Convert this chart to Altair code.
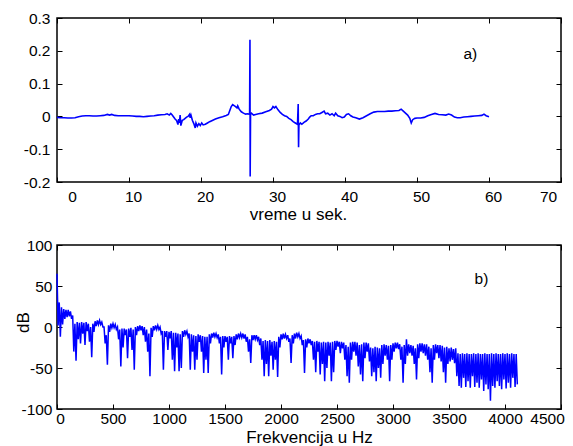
import altair as alt
import pandas as pd

# ---------------- panel a): time signal ----------------
time_s = [
    0.0, 0.5, 1.0, 1.5, 2.0, 2.5, 3.0, 3.5, 4.0, 4.5,
    5.0, 5.5, 6.0, 6.5, 7.0, 7.3, 7.6, 8.0, 8.5, 9.0,
    9.5, 10.0, 10.5, 11.0, 11.5, 12.0, 12.5, 13.0, 13.5, 14.0,
    14.5, 15.0, 15.3, 15.6, 15.8, 16.0, 16.2, 16.4, 16.6, 16.8,
    16.9, 17.0, 17.1, 17.2, 17.4, 17.6, 17.8, 18.0, 18.2, 18.4,
    18.5, 18.6, 18.8, 19.0, 19.2, 19.3, 19.5, 19.7, 19.9, 20.1,
    20.3, 20.6, 20.9, 21.2, 21.5, 22.0, 22.5, 23.0, 23.5, 23.8,
    24.0, 24.2, 24.4, 24.6, 24.8, 25.0, 25.1, 25.3, 25.6, 25.9,
    26.2, 26.5, 26.75, 26.8, 26.83, 26.88, 27.0, 27.3, 27.6, 28.0,
    28.5, 29.0, 29.5, 29.8, 30.0, 30.2, 30.4, 30.7, 31.0, 31.3,
    31.6, 31.9, 32.2, 32.5, 32.8, 33.1, 33.4, 33.5, 33.55, 33.6,
    33.8, 34.0, 34.3, 34.6, 34.9, 35.1, 35.3, 35.6, 35.9, 36.2,
    36.5, 36.8, 37.1, 37.3, 37.6, 37.9, 38.2, 38.5, 38.7, 39.0,
    39.3, 39.6, 39.9, 40.2, 40.5, 40.8, 41.1, 41.5, 42.0, 42.5,
    43.0, 43.5, 44.0, 44.5, 45.0, 45.5, 46.0, 46.5, 47.0, 47.5,
    47.8, 48.1, 48.4, 48.7, 49.0, 49.2, 49.4, 49.7, 50.0, 50.5,
    51.0, 51.5, 52.0, 52.5, 53.0, 53.5, 54.0, 54.4, 54.8, 55.2,
    55.6, 56.0, 56.5, 57.0, 57.5, 58.0, 58.5, 59.0, 59.3, 59.6,
    60.0,
]
signal = [
    -0.003, -0.004, -0.004, -0.005, -0.005, -0.004, -0.001, 0.001, 0.002, 0.002,
    0.001, 0.001, 0.002, 0.003, 0.006, 0.004, 0.006, 0.003, 0.002, 0.002,
    0.002, 0.002, 0.001, 0.000, 0.000, -0.001, 0.000, 0.001, 0.002, 0.004,
    0.005, 0.006, 0.008, 0.004, 0.009, 0.004, -0.002, -0.008, -0.012, -0.025,
    -0.008, -0.020, 0.004, -0.028, -0.012, -0.010, -0.006, -0.002, 0.000, 0.006,
    -0.004, 0.004, -0.012, -0.022, -0.035, -0.020, -0.030, -0.022, -0.028, -0.020,
    -0.026, -0.024, -0.020, -0.016, -0.013, -0.008, -0.004, -0.001, 0.003, 0.006,
    0.018, 0.030, 0.036, 0.033, 0.030, 0.026, 0.032, 0.022, 0.014, 0.010,
    0.007, 0.008, 0.006, 0.234, -0.183, 0.006, 0.010, 0.004, 0.006, 0.008,
    0.010, 0.014, 0.018, 0.022, 0.030, 0.026, 0.030, 0.020, 0.012, 0.006,
    0.002, 0.000, -0.006, -0.010, -0.016, -0.020, -0.024, 0.038, -0.094, -0.026,
    -0.020, -0.024, -0.018, -0.014, -0.008, -0.002, 0.002, 0.002, 0.006, 0.008,
    0.008, 0.012, 0.016, 0.008, 0.010, 0.004, 0.008, 0.002, 0.010, 0.002,
    0.000, -0.004, -0.002, 0.006, 0.008, 0.002, -0.002, -0.004, -0.008, -0.004,
    0.002, 0.008, 0.013, 0.015, 0.015, 0.015, 0.016, 0.016, 0.017, 0.018,
    0.022, 0.016, 0.010, 0.004, -0.006, -0.020, -0.010, -0.006, -0.005, -0.005,
    -0.003, 0.002, 0.006, 0.009, 0.006, 0.005, 0.004, 0.007, 0.004, -0.002,
    -0.004, -0.004, -0.002, -0.001, 0.000, 0.001, 0.002, 0.003, 0.007, 0.002,
    -0.001,
]
time_ticks = [0, 10, 20, 30, 40, 50, 60, 70]
amp_ticks = [-0.2, -0.1, 0, 0.1, 0.2, 0.3]

# ---------------- panel b): spectrum (upper / lower trace per 20 Hz bin) ----------------
freq_step = 20
spec_hi = [
    65, 30, 24, 22, 21, 21, 19, 14, 4, 6,
    5, 6, 5, 6, 4, 0, 4, 7, 8, 8,
    6, 0, -10, 2, 4, 4, 3, 0, -3, -2,
    -2, -3, -2, -1, -3, 0, 1, 2, 1, 0,
    -3, -8, -1, 1, 2, 2, 0, -5, -5, -5,
    -6, -5, -7, -7, -8, -9, -5, -4, -5, -8,
    -9, -10, -11, -9, -10, -11, -12, -12, -9, -8,
    -7, -8, -9, -12, -11, -11, -12, -11, -12, -11,
    -9, -8, -8, -8, -9, -12, -15, -10, -10, -10,
    -12, -14, -17, -16, -17, -16, -18, -17, -18, -12,
    -9, -8, -9, -10, -14, -10, -8, -7, -8, -11,
    -16, -15, -14, -15, -17, -18, -17, -18, -19, -18,
    -19, -18, -19, -18, -17, -17, -18, -18, -19, -22,
    -24, -19, -18, -18, -19, -22, -21, -19, -19, -20,
    -25, -26, -24, -25, -26, -22, -21, -22, -23, -22,
    -20, -19, -19, -21, -24, -22, -15, -21, -22, -23,
    -26, -21, -20, -20, -21, -21, -24, -26, -22, -21,
    -22, -22, -23, -25, -24, -26, -25, -27, -26, -32,
    -33, -32, -33, -32, -33, -33, -32, -33, -32, -33,
    -33, -32, -33, -33, -32, -33, -32, -33, -33, -32,
    -33, -32, -33, -32, -33, -33,
]
spec_lo = [
    2, -12, 3, 10, 12, 13, 10, -30, -41, -15,
    -20, -8, -22, -5, -18, -37, -6, 1, 3, 3,
    0, -20, -46, -6, -1, -1, -3, -15, -48, -25,
    -10, -38, -12, -28, -52, -10, -5, -4, -10, -18,
    -30, -60, -12, -4, -3, -3, -8, -52, -12, -28,
    -14, -40, -54, -25, -54, -50, -12, -9, -12, -52,
    -30, -52, -40, -18, -30, -56, -40, -56, -20, -13,
    -12, -13, -20, -58, -25, -18, -40, -20, -38, -22,
    -15, -13, -13, -14, -18, -30, -44, -16, -15, -16,
    -22, -40, -60, -45, -60, -35, -52, -40, -61, -25,
    -15, -14, -14, -18, -44, -20, -14, -12, -14, -22,
    -56, -25, -20, -22, -40, -55, -30, -58, -45, -66,
    -50, -35, -66, -55, -28, -24, -32, -26, -40, -60,
    -68, -40, -30, -35, -48, -58, -66, -38, -30, -42,
    -60, -55, -66, -50, -62, -45, -35, -40, -66, -40,
    -30, -26, -27, -40, -68, -45, -35, -32, -35, -45,
    -64, -38, -30, -32, -35, -40, -55, -68, -40, -32,
    -38, -42, -55, -68, -45, -42, -40, -44, -60, -72,
    -74, -62, -73, -66, -74, -60, -73, -68, -74, -64,
    -78, -70, -76, -90, -72, -74, -66, -72, -76, -64,
    -75, -68, -74, -62, -73, -70,
]
freq_ticks = [0, 500, 1000, 1500, 2000, 2500, 3000, 3500, 4000, 4500]
db_ticks = [-100, -50, 0, 50, 100]

panel_labels_a = pd.DataFrame({"t": [57.4], "v": [0.19], "txt": ["a)"]})
panel_labels_b = pd.DataFrame({"f": [3790], "db": [58], "txt": ["b)"]})

sig_df = pd.DataFrame({"t": time_s, "v": signal})

rows = []
for i, (h, l) in enumerate(zip(spec_hi, spec_lo)):
    f = i * freq_step
    rows.append({"f": f, "db": h, "o": 2 * i})
    rows.append({"f": f + freq_step / 2, "db": l, "o": 2 * i + 1})
spec_df = pd.DataFrame(rows)

BLUE = "#0000ff"
W, H = 504, 164
FONT = "Liberation Sans"

# ---------- top panel ----------
t_scale = alt.Scale(domain=[0, 70], nice=False, zero=False)
a_scale = alt.Scale(domain=[-0.2, 0.3], nice=False, zero=False)

top_line = alt.Chart(sig_df).mark_line(color=BLUE, strokeWidth=1.6).encode(
    x=alt.X("t:Q", scale=t_scale,
            axis=alt.Axis(values=time_ticks, orient="bottom", offset=-5, tickSize=5,
                          labelPadding=7, labelFlush=False,
                          labelExpr="toString(datum.value)",
                          labelOffset={"condition": [{"test": "datum.value == 0", "value": 15},
                                                     {"test": "datum.value == 70", "value": -13}],
                                       "value": 4},
                          title="vreme u sek.", titlePadding=2, titleX=241)),
    y=alt.Y("v:Q", scale=a_scale,
            axis=alt.Axis(values=amp_ticks, orient="left", offset=-5, tickSize=5,
                          labelPadding=7, labelExpr="toString(datum.value)", title=None)),
)
top_text = alt.Chart(panel_labels_a).mark_text(font=FONT, fontSize=15.5, color="black").encode(
    x=alt.X("t:Q", scale=t_scale,
            axis=alt.Axis(values=time_ticks, orient="top", offset=-5, tickSize=5,
                          labels=False, title=None)),
    y=alt.Y("v:Q", scale=a_scale,
            axis=alt.Axis(values=amp_ticks, orient="right", offset=-5, tickSize=5,
                          labels=False, title=None)),
    text="txt:N",
)
top = alt.layer(top_line, top_text).resolve_axis(x="independent", y="independent").properties(
    width=W, height=H)

# ---------- bottom panel ----------
f_scale = alt.Scale(domain=[0, 4500], nice=False, zero=False)
d_scale = alt.Scale(domain=[-100, 100], nice=False, zero=False)

bot_line = alt.Chart(spec_df).mark_line(color=BLUE, strokeWidth=1.5).encode(
    x=alt.X("f:Q", scale=f_scale,
            axis=alt.Axis(values=freq_ticks, orient="bottom", offset=-5, tickSize=5,
                          labelPadding=2.5, labelFlush=False,
                          labelExpr="toString(datum.value)",
                          labelOffset={"condition": [{"test": "datum.value == 0", "value": 3},
                                                     {"test": "datum.value == 4500", "value": -14}],
                                       "value": 0},
                          title="Frekvencija u Hz", titlePadding=2)),
    y=alt.Y("db:Q", scale=d_scale,
            axis=alt.Axis(values=db_ticks, orient="left", offset=-5, tickSize=5,
                          labelPadding=5, labelExpr="toString(datum.value)",
                          title="dB", titleX=-30, titleY=77)),
    order="o:Q",
)
bot_text = alt.Chart(panel_labels_b).mark_text(font=FONT, fontSize=15.5, color="black").encode(
    x=alt.X("f:Q", scale=f_scale,
            axis=alt.Axis(values=freq_ticks, orient="top", offset=-5, tickSize=5,
                          labels=False, title=None)),
    y=alt.Y("db:Q", scale=d_scale,
            axis=alt.Axis(values=db_ticks, orient="right", offset=-5, tickSize=5,
                          labels=False, title=None)),
    text="txt:N",
)
bottom = alt.layer(bot_line, bot_text).resolve_axis(x="independent", y="independent").properties(
    width=W, height=H)

chart = alt.vconcat(top, bottom, spacing=13).properties(
    padding={"left": 5, "top": 2, "right": 0, "bottom": 0},
    background="white",
).configure_axis(
    labelFont=FONT, labelFontSize=15.5, labelColor="black",
    titleFont=FONT, titleFontSize=17, titleFontWeight="normal", titleColor="black",
    tickColor="black", tickWidth=1, grid=False, domain=False,
).configure_view(stroke="black", strokeWidth=1.5)

chart.save("out.html", embed_options={"renderer": "svg", "actions": False})
